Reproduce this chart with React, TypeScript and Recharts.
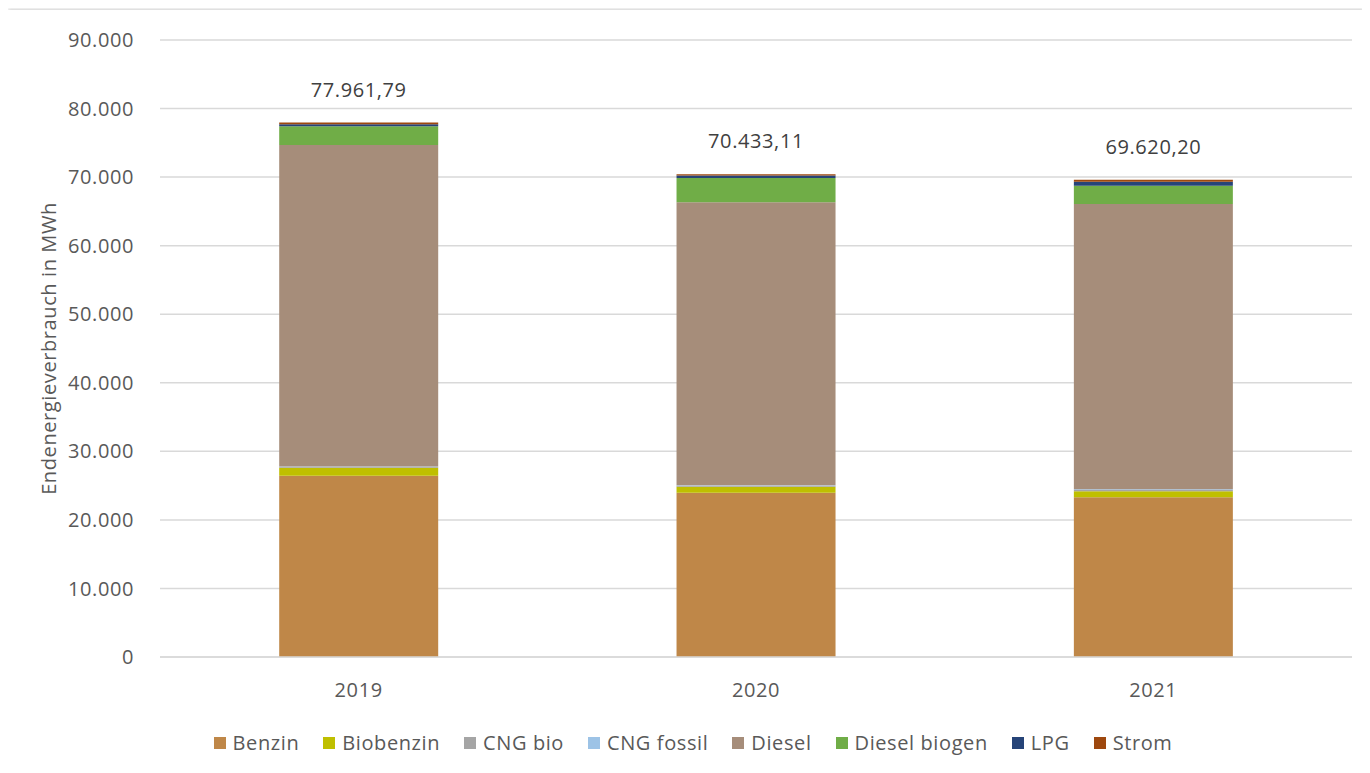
import { Bar, BarChart, CartesianGrid, LabelList, Legend, XAxis, YAxis } from 'recharts';

const YEARS = ['2019', '2020', '2021'];

// MWh per fuel type and year
const BENZIN = [26450, 23950, 23300];
const BIOBENZIN = [1150, 880, 870];
const CNG_BIO = [120, 150, 180];
const CNG_FOSSIL = [60, 80, 120];
const DIESEL = [46900, 41270, 41620];
const DIESEL_BIOGEN = [2730, 3530, 2660];
const LPG = [300, 360, 570];
const STROM = [251.79, 213.11, 300.2];

const Y_TICKS = [0, 10000, 20000, 30000, 40000, 50000, 60000, 70000, 80000, 90000];

const SERIES = [
  { key: 'benzin', label: 'Benzin', color: '#BF8748', values: BENZIN },
  { key: 'biobenzin', label: 'Biobenzin', color: '#BFBF00', values: BIOBENZIN },
  { key: 'cngBio', label: 'CNG bio', color: '#A5A5A5', values: CNG_BIO },
  { key: 'cngFossil', label: 'CNG fossil', color: '#9DC3E6', values: CNG_FOSSIL },
  { key: 'diesel', label: 'Diesel', color: '#A68D7A', values: DIESEL },
  { key: 'dieselBiogen', label: 'Diesel biogen', color: '#70AD47', values: DIESEL_BIOGEN },
  { key: 'lpg', label: 'LPG', color: '#264478', values: LPG },
  { key: 'strom', label: 'Strom', color: '#9E480E', values: STROM },
];

const FONT = '"Open Sans", sans-serif';
const TEXT = { fill: '#595959', fontSize: 20, fontFamily: FONT, letterSpacing: 0.6 };

// 77961.79 -> "77.961,79", 90000 -> "90.000"
function fmtDe(n: number, decimals: number): string {
  const [int, frac] = n.toFixed(decimals).split('.');
  const grouped = int.replace(/\B(?=(\d{3})+(?!\d))/g, '.');
  return frac ? `${grouped},${frac}` : grouped;
}

const data = YEARS.map((year, i) => {
  const row: Record<string, string | number> = { year };
  let total = 0;
  for (const s of SERIES) {
    row[s.key] = s.values[i];
    total += s.values[i];
  }
  row.total = total;
  return row;
});

function FuelLegend() {
  return (
    <div style={{ display: 'flex', justifyContent: 'center', gap: 24, fontFamily: FONT }}>
      {SERIES.map((s) => (
        <div key={s.key} style={{ display: 'flex', alignItems: 'center', gap: 7 }}>
          <span style={{ width: 12, height: 12, background: s.color, display: 'inline-block' }} />
          <span style={{ color: '#595959', fontSize: 20, letterSpacing: 0.6 }}>{s.label}</span>
        </div>
      ))}
    </div>
  );
}

export default function App() {
  return (
    <div
      style={{
        width: 1356,
        height: 763,
        marginTop: 2,
        background: '#fff',
        boxShadow: '0 0 4px rgba(0,0,0,0.3)',
        fontFamily: FONT,
      }}
    >
      <BarChart
        width={1356}
        height={763}
        data={data}
        barCategoryGap="30%"
        margin={{ top: 30, right: 12, left: 60, bottom: 20 }}
      >
        <CartesianGrid vertical={false} stroke="#D9D9D9" strokeWidth={1.5} />
        <XAxis
          dataKey="year"
          axisLine={{ stroke: '#D9D9D9', strokeWidth: 1.5 }}
          tickLine={false}
          tickMargin={20}
          height={69}
          tick={TEXT}
        />
        <YAxis
          domain={[0, 90000]}
          ticks={Y_TICKS}
          axisLine={false}
          tickLine={false}
          tickMargin={20}
          width={92}
          tickFormatter={(v: number) => fmtDe(v, 0)}
          tick={TEXT}
          label={{
            value: 'Endenergieverbrauch in MWh',
            angle: -90,
            position: 'insideLeft',
            offset: -19,
            style: { ...TEXT, textAnchor: 'middle' },
          }}
        />
        <Legend content={<FuelLegend />} wrapperStyle={{ left: 0, width: 1370, bottom: 17 }} />
        {SERIES.map((s, idx) => (
          <Bar
            key={s.key}
            dataKey={s.key}
            name={s.label}
            stackId="fuel"
            fill={s.color}
            isAnimationActive={false}
          >
            {idx === SERIES.length - 1 && (
              <LabelList
                dataKey="total"
                position="top"
                offset={26}
                formatter={(v: number) => fmtDe(v, 2)}
                style={{ fill: '#404040', fontSize: 20, fontFamily: FONT, letterSpacing: 0.6 }}
              />
            )}
          </Bar>
        ))}
      </BarChart>
    </div>
  );
}
